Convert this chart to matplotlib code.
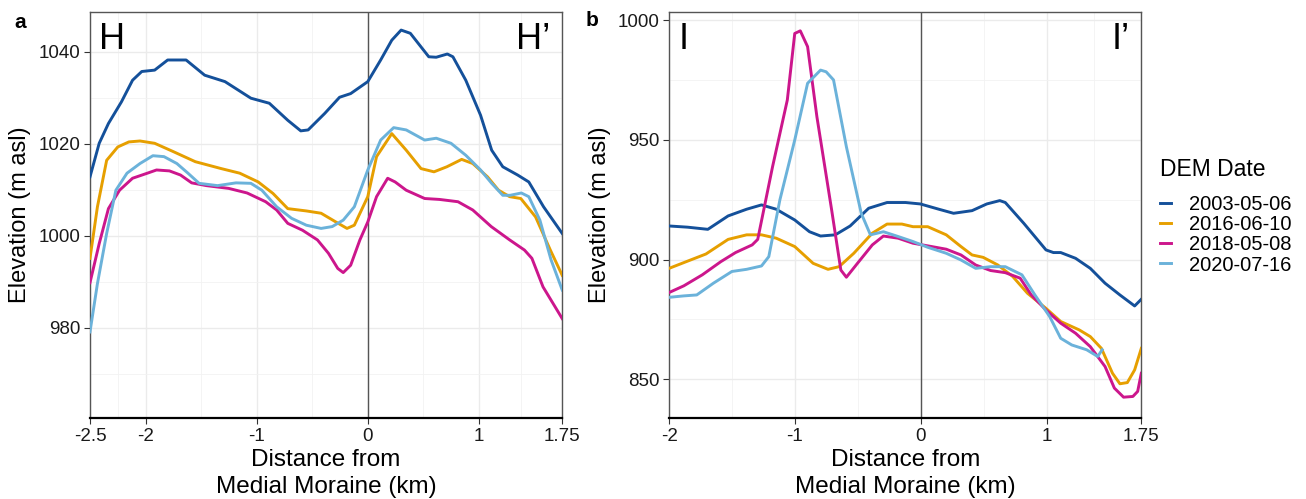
import matplotlib
matplotlib.use("Agg")
import matplotlib.pyplot as plt
from matplotlib.lines import Line2D

plt.rcParams['font.family'] = ['Liberation Sans', 'DejaVu Sans']

dates = ['2003-05-06', '2016-06-10', '2018-05-08', '2020-07-16']
colors = ['#14509A', '#E69F00', '#CC168C', '#6BB2DA']

# Panel a: H - H'
h_2003_x = [-2.5, -2.417, -2.334, -2.217, -2.117, -2.034, -1.918, -1.801, -1.635, -1.468, -1.285, -1.052,
            -0.886, -0.72, -0.603, -0.537, -0.387, -0.254, -0.154, 0.0, 0.116, 0.216, 0.3, 0.383, 0.549,
            0.616, 0.716, 0.766, 0.882, 1.015, 1.115, 1.215, 1.349, 1.449, 1.582, 1.75]
h_2003_y = [1012.8, 1020.1, 1024.4, 1029.1, 1033.8, 1035.7, 1036.0, 1038.2, 1038.2, 1034.9, 1033.5, 1029.9,
            1028.8, 1025.1, 1022.8, 1023.0, 1026.6, 1030.1, 1030.9, 1033.5, 1038.2, 1042.5, 1044.7, 1044.0,
            1038.9, 1038.8, 1039.5, 1038.9, 1033.8, 1026.2, 1018.6, 1015.0, 1013.2, 1011.7, 1006.3, 1000.5]

h_2016_x = [-2.5, -2.433, -2.35, -2.25, -2.15, -2.05, -1.918, -1.751, -1.552, -1.319, -1.152, -0.986,
            -0.853, -0.72, -0.553, -0.42, -0.287, -0.187, -0.121, 0.0, 0.079, 0.216, 0.346, 0.479, 0.596,
            0.712, 0.845, 0.945, 1.078, 1.177, 1.277, 1.377, 1.51, 1.643, 1.75]
h_2016_y = [995.1, 1006.3, 1016.4, 1019.3, 1020.4, 1020.6, 1020.1, 1018.3, 1016.1, 1014.6, 1013.6, 1011.7,
            1009.2, 1005.9, 1005.4, 1004.9, 1003.0, 1001.6, 1002.3, 1008.5, 1017.2, 1022.2, 1018.6, 1014.6,
            1013.9, 1015.0, 1016.6, 1015.7, 1012.8, 1009.9, 1008.5, 1008.1, 1004.1, 996.9, 991.4]

h_2018_x = [-2.5, -2.417, -2.334, -2.234, -2.117, -1.984, -1.901, -1.785, -1.685, -1.585, -1.452, -1.252,
            -1.086, -0.919, -0.82, -0.72, -0.587, -0.453, -0.354, -0.27, -0.221, -0.154, -0.071, 0.0,
            0.079, 0.179, 0.246, 0.346, 0.512, 0.645, 0.812, 0.945, 1.111, 1.277, 1.41, 1.477, 1.577, 1.75]
h_2018_y = [989.8, 998.3, 1005.9, 1009.9, 1012.5, 1013.6, 1014.3, 1014.1, 1013.2, 1011.5, 1010.9, 1010.3,
            1009.3, 1007.4, 1005.6, 1002.7, 1001.2, 999.1, 996.2, 992.9, 992.0, 993.6, 999.1, 1003.0,
            1008.5, 1012.5, 1011.7, 1009.9, 1008.1, 1007.9, 1007.4, 1005.6, 1002.0, 999.1, 996.9, 995.1,
            988.9, 982.0]

h_2020_x = [-2.5, -2.433, -2.35, -2.267, -2.167, -2.05, -1.934, -1.834, -1.718, -1.618, -1.518, -1.352,
            -1.186, -1.052, -0.953, -0.82, -0.686, -0.553, -0.42, -0.32, -0.221, -0.121, 0.0, 0.116,
            0.233, 0.346, 0.512, 0.616, 0.749, 0.882, 1.015, 1.115, 1.215, 1.282, 1.382, 1.449, 1.549,
            1.649, 1.75]
h_2020_y = [979.1, 989.6, 1000.5, 1009.9, 1013.6, 1015.7, 1017.4, 1017.2, 1015.7, 1013.6, 1011.4, 1010.9,
            1011.5, 1011.4, 1009.9, 1006.3, 1003.8, 1002.3, 1001.6, 1002.0, 1003.4, 1006.3, 1014.3, 1020.8,
            1023.5, 1023.0, 1020.8, 1021.2, 1020.1, 1017.5, 1014.3, 1011.4, 1008.8, 1008.8, 1009.3, 1008.5,
            1003.4, 994.8, 988.2]

# Panel b: I - I'
i_2003_x = [-2.0, -1.853, -1.692, -1.531, -1.384, -1.266, -1.149, -1.002, -0.885, -0.797, -0.68, -0.562,
            -0.415, -0.269, -0.122, -0.005, 0.142, 0.259, 0.406, 0.523, 0.626, 0.67, 0.817, 0.993, 1.052,
            1.11, 1.228, 1.345, 1.462, 1.58, 1.697, 1.75]
i_2003_y = [914.0, 913.5, 912.6, 918.2, 921.0, 922.8, 921.0, 916.5, 911.6, 909.8, 910.3, 914.0,
            921.4, 923.8, 923.8, 923.2, 921.0, 919.3, 920.4, 923.2, 924.6, 923.8, 915.1, 904.0, 902.9,
            902.9, 900.5, 896.3, 890.1, 885.2, 880.6, 883.4]

i_2016_x = [-2.0, -1.883, -1.707, -1.531, -1.384, -1.266, -1.149, -1.002, -0.856, -0.738, -0.65, -0.533,
            -0.386, -0.269, -0.151, -0.063, 0.054, 0.201, 0.318, 0.406, 0.494, 0.611, 0.729, 0.846, 0.993,
            1.11, 1.257, 1.345, 1.433, 1.521, 1.58, 1.639, 1.697, 1.75]
i_2016_y = [896.3, 898.7, 902.3, 908.4, 910.3, 910.3, 908.9, 905.4, 898.4, 895.9, 897.0, 902.6,
            911.0, 914.8, 914.8, 913.7, 913.7, 910.3, 905.4, 901.9, 900.9, 897.7, 892.9, 885.9, 879.6,
            874.1, 870.6, 867.8, 862.9, 852.5, 848.1, 848.6, 853.9, 862.9]

i_2018_x = [-2.0, -1.883, -1.736, -1.589, -1.472, -1.34, -1.296, -1.178, -1.061, -1.002, -0.958, -0.9,
            -0.826, -0.709, -0.636, -0.592, -0.504, -0.386, -0.298, -0.181, -0.063, 0.054, 0.201, 0.318,
            0.435, 0.553, 0.67, 0.788, 0.876, 0.993, 1.11, 1.228, 1.345, 1.462, 1.536, 1.609, 1.683,
            1.721, 1.75]
i_2018_y = [886.2, 889.0, 893.6, 899.1, 902.9, 906.1, 908.4, 938.8, 966.6, 994.4, 995.5, 988.9,
            959.6, 920.7, 895.6, 892.6, 898.4, 906.1, 909.8, 908.9, 906.8, 905.7, 904.3, 901.9,
            897.7, 895.4, 894.5, 892.2, 885.2, 878.9, 873.4, 869.2, 863.6, 855.3, 846.3, 842.5, 842.8,
            844.9, 852.5]

i_2020_x = [-2.0, -1.883, -1.78, -1.648, -1.501, -1.384, -1.266, -1.208, -1.12, -1.002, -0.9, -0.797,
            -0.753, -0.694, -0.592, -0.474, -0.401, -0.298, -0.181, -0.063, 0.054, 0.201, 0.318, 0.435,
            0.553, 0.67, 0.802, 0.905, 1.022, 1.11, 1.198, 1.316, 1.404, 1.439]
i_2020_y = [884.2, 884.8, 885.2, 890.1, 895.0, 895.9, 897.3, 901.2, 924.9, 949.9, 973.6, 979.1,
            978.4, 975.0, 947.1, 919.3, 910.3, 911.6, 909.6, 907.5, 905.1, 902.6, 899.8, 896.3,
            897.0, 897.0, 893.6, 885.2, 876.2, 867.1, 864.3, 862.3, 859.5, 862.3]

h_xticks = [-2.5, -2, -1, 0, 1, 1.75]
h_xlabels = ['-2.5', '-2', '-1', '0', '1', '1.75']
h_yticks = [980, 1000, 1020, 1040]
i_xticks = [-2, -1, 0, 1, 1.75]
i_xlabels = ['-2', '-1', '0', '1', '1.75']
i_yticks = [850, 900, 950, 1000]


def style_axes(ax, xticks, xlabels, yticks, xlim, ylim):
    ax.set_xlim(*xlim)
    ax.set_ylim(*ylim)
    ax.set_xticks(xticks)
    ax.set_xticklabels(xlabels)
    ax.set_yticks(yticks)
    # ggplot-style minor breaks halfway between majors
    xminor = [(a + b) / 2 for a, b in zip(xticks[:-1], xticks[1:])]
    step = yticks[1] - yticks[0]
    yminor = [t - step / 2 for t in yticks] + [yticks[-1] + step / 2]
    ax.set_xticks(xminor, minor=True)
    ax.set_yticks([y for y in yminor if ylim[0] < y < ylim[1]], minor=True)
    ax.grid(which='major', color='#EBEBEB', lw=1.0)
    ax.grid(which='minor', color='#F2F2F2', lw=0.6)
    ax.set_axisbelow(True)
    ax.tick_params(which='major', length=4, color='#333333', labelsize=13.5,
                   labelcolor='#1a1a1a', pad=3)
    ax.tick_params(which='minor', length=0)
    for side in ['top', 'right', 'left']:
        ax.spines[side].set_color('#555555')
        ax.spines[side].set_linewidth(1.0)
    ax.spines['bottom'].set_color('black')
    ax.spines['bottom'].set_linewidth(1.6)
    ax.axvline(0, color='#555555', lw=1.0, zorder=1.5)
    ax.set_xlabel('Distance from\nMedial Moraine (km)', fontsize=17.5, linespacing=1.28, labelpad=3)
    ax.set_ylabel('Elevation (m asl)', fontsize=17, labelpad=5)


fig = plt.figure(figsize=(13.06, 4.99), dpi=100)
ax1 = fig.add_axes([0.0689, 0.1623, 0.3616, 0.8143])
ax2 = fig.add_axes([0.5123, 0.1623, 0.3616, 0.8143])

for xs, ys, c in zip([h_2003_x, h_2016_x, h_2018_x, h_2020_x],
                     [h_2003_y, h_2016_y, h_2018_y, h_2020_y], colors):
    ax1.plot(xs, ys, color=c, lw=2.1, solid_joinstyle='round', zorder=3)
for xs, ys, c in zip([i_2003_x, i_2016_x, i_2018_x, i_2020_x],
                     [i_2003_y, i_2016_y, i_2018_y, i_2020_y], colors):
    ax2.plot(xs, ys, color=c, lw=2.1, solid_joinstyle='round', zorder=3)

style_axes(ax1, h_xticks, h_xlabels, h_yticks, (-2.5, 1.75), (960.4, 1048.7))
style_axes(ax2, i_xticks, i_xlabels, i_yticks, (-2, 1.75), (833.8, 1003.5))

ax1.text(0.02, 0.975, 'H', transform=ax1.transAxes, fontsize=26, va='top', ha='left')
ax1.text(0.975, 0.975, 'H\u2019', transform=ax1.transAxes, fontsize=26, va='top', ha='right')
ax2.text(0.02, 0.975, 'I', transform=ax2.transAxes, fontsize=26, va='top', ha='left')
ax2.text(0.975, 0.975, 'I\u2019', transform=ax2.transAxes, fontsize=26, va='top', ha='right')

fig.text(20 / 1306, 1 - 22 / 499, 'a', fontsize=15, fontweight='bold', va='center', ha='center')
fig.text(592 / 1306, 1 - 20 / 499, 'b', fontsize=15, fontweight='bold', va='center', ha='center')

handles = [Line2D([0], [0], color=c, lw=2.1) for c in colors]
leg = fig.legend(handles, dates, title='DEM Date', loc='upper left',
                 bbox_to_anchor=(1160 / 1306, 1 - 158 / 499), frameon=False,
                 fontsize=14.5, title_fontsize=16.5, handlelength=0.55, handletextpad=0.9,
                 labelspacing=0.06, borderaxespad=0, borderpad=0)
leg._legend_box.align = 'left'
leg._legend_box.sep = 10

fig.savefig('out.png', dpi=100)
